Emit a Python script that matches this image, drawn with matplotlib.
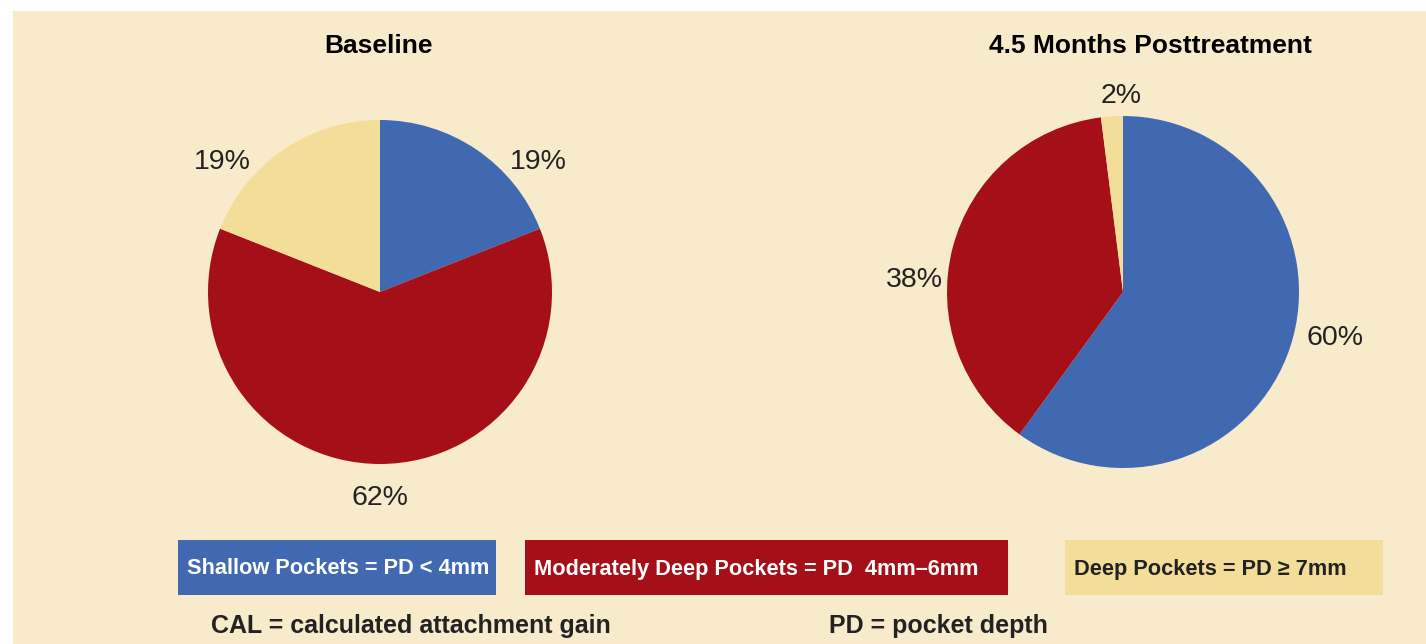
import numpy as np
import matplotlib.pyplot as plt
from matplotlib.patches import Rectangle

# data
categories = ['Shallow Pockets', 'Moderately Deep Pockets', 'Deep Pockets']
baseline = [19, 62, 19]
posttreatment = [60, 38, 2]
titles = ['Baseline', '4.5 Months Posttreatment']
legend_labels = ['Shallow Pockets = PD < 4mm',
                 'Moderately Deep Pockets = PD  4mm\u20136mm',
                 'Deep Pockets = PD \u2265 7mm']
notes = ['CAL = calculated attachment gain', 'PD = pocket depth']

colors = ['#4169B2', '#A50F17', '#F2DE98']
bg = '#F7EBCB'
font = ['Liberation Sans', 'DejaVu Sans']

W, H = 1426, 644
fig = plt.figure(figsize=(W / 100, H / 100), dpi=100)
fig.patch.set_facecolor('white')
ax = fig.add_axes([0, 0, 1, 1])

# background panel
ax.add_patch(Rectangle((13, 0), W - 13, H - 11, facecolor=bg, edgecolor='none', zorder=0))

# pies: (values, center, radius, label angles, label distances)
pies = [
    (baseline, (380, H - 292), 172, [40, -90, 140], [1.20, 1.18, 1.20]),
    (posttreatment, (1123, H - 292), 176, [-11.5, 176, 90.6], [1.23, 1.19, 1.13]),
]
for (vals, c, r, angs, dists), title, tx in zip(pies, titles, [378, 1150]):
    ax.pie(vals, colors=colors, startangle=90, counterclock=False,
           center=c, radius=r, frame=True,
           wedgeprops=dict(linewidth=0))
    for v, a, d in zip(vals, angs, dists):
        ax.text(c[0] + r * d * np.cos(np.radians(a)), c[1] + r * d * np.sin(np.radians(a)) - 3,
                f'{v}%', ha='center', va='center', fontsize=20.5, family=font, color='#222222')
    ax.text(tx, H - 46, title, ha='center', va='center', fontsize=19,
            fontweight='bold', family=font, color='black')

ax.set_xlim(0, W)
ax.set_ylim(0, H)
ax.set_aspect('auto')
ax.axis('off')

# legend boxes
boxes = [(178, 496), (525, 1008), (1065, 1383)]
text_cols = ['white', 'white', '#222222']
for (x0, x1), col, lab, tc in zip(boxes, colors, legend_labels, text_cols):
    ax.add_patch(Rectangle((x0, H - 595), x1 - x0, 55, facecolor=col, edgecolor='none'))
    ax.text(x0 + 9, H - 569, lab, ha='left', va='center', fontsize=15.7,
            fontweight='bold', family=font, color=tc)

# notes
for x, n in zip([211, 829], notes):
    ax.text(x, H - 626, n, ha='left', va='center', fontsize=18,
            fontweight='bold', family=font, color='#222222')

plt.savefig('out.png', dpi=100, facecolor=fig.get_facecolor())
